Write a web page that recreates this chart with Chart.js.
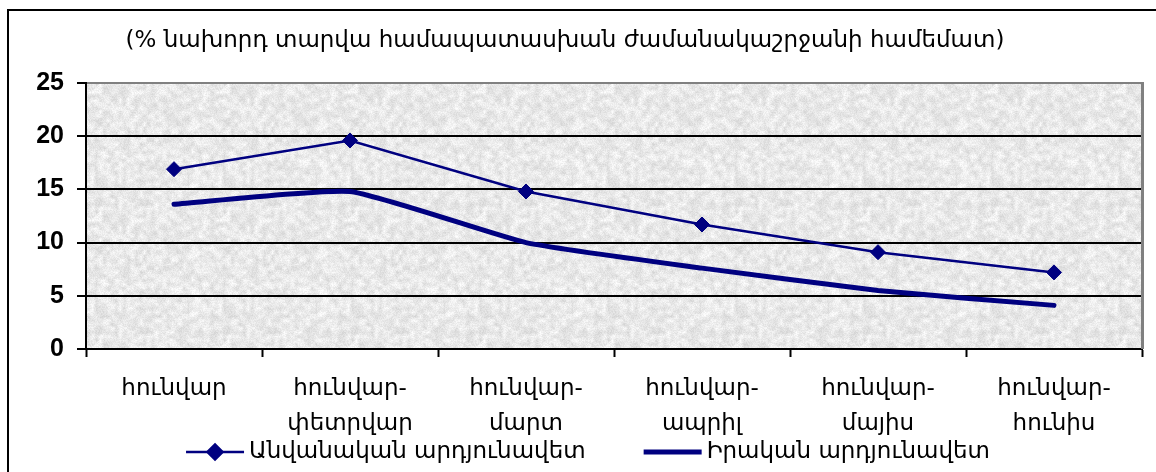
<!DOCTYPE html>
<html>
<head>
<meta charset="utf-8">
<script src="https://cdn.jsdelivr.net/npm/chart.js@4.4.1/dist/chart.umd.min.js"></script>
<style>
  html, body { margin: 0; padding: 0; background: #ffffff; }
  canvas { display: block; }
</style>
</head>
<body>
<canvas id="chart" width="1156" height="472"></canvas>
<script>
// Period labels (two lines each)
const categories = [
  ["հունվար"],
  ["հունվար-", "փետրվար"],
  ["հունվար-", "մարտ"],
  ["հունվար-", "ապրիլ"],
  ["հունվար-", "մայիս"],
  ["հունվար-", "հունիս"]
];

// Series values, % vs. same period of previous year
const nominalValues = [16.9, 19.6, 14.8, 11.7, 9.1, 7.2];
const realValues = [13.6, 14.8, 10.0, 7.6, 5.5, 4.1];

const seriesNames = ["Անվանական արդյունավետ", "Իրական արդյունավետ"];
const subtitle = "(% նախորդ տարվա համապատասխան ժամանակաշրջանի համեմատ)";

const yTicks = [0, 5, 10, 15, 20, 25];

const NAVY = "#000080";
const ARM_FONT = '"DejaVu Sans", "Noto Sans", sans-serif';
const NUM_FONT = '"Liberation Sans", Arial, sans-serif';

// Grainy light-grey fill for the plot area (deterministic hash speckle)
function makeTexture() {
  const size = 128;
  const c = document.createElement("canvas");
  c.width = size; c.height = size;
  const g = c.getContext("2d");
  const img = g.createImageData(size, size);
  const hash = (x, y) => {
    let h = (x * 374761393 + y * 668265263) | 0;
    h = (h ^ (h >>> 13)) * 1274126177 | 0;
    h = h ^ (h >>> 16);
    return ((h >>> 0) % 1000) / 1000;
  };
  const cell = 4;
  const n = size / cell;
  const coarse = (x, y) => hash(((x % n) + n) % n, ((y % n) + n) % n + 977);
  for (let y = 0; y < size; y++) {
    for (let x = 0; x < size; x++) {
      const gx = x / cell, gy = y / cell;
      const x0 = Math.floor(gx), y0 = Math.floor(gy);
      const fx = gx - x0, fy = gy - y0;
      const a = coarse(x0, y0), b = coarse(x0 + 1, y0);
      const cc = coarse(x0, y0 + 1), d = coarse(x0 + 1, y0 + 1);
      const v = (a * (1 - fx) + b * fx) * (1 - fy) + (cc * (1 - fx) + d * fx) * fy;
      const fine = hash(x + 311, y + 127);
      const val = Math.round(233 + (v - 0.5) * 30 + (fine - 0.5) * 18);
      const i = (y * size + x) * 4;
      img.data[i] = img.data[i + 1] = img.data[i + 2] = Math.max(185, Math.min(254, val));
      img.data[i + 3] = 255;
    }
  }
  g.putImageData(img, 0, 0);
  return c;
}

const decorPlugin = {
  id: "decor",
  beforeDraw(chart) {
    const { ctx, chartArea: a } = chart;
    ctx.save();
    // outer frame
    ctx.strokeStyle = "#000";
    ctx.lineWidth = 2;
    ctx.strokeRect(8, 10, 1170, 490);
    // plot background
    ctx.fillStyle = ctx.createPattern(makeTexture(), "repeat");
    ctx.fillRect(a.left, a.top, a.right - a.left, a.bottom - a.top);
    // subtitle
    ctx.fillStyle = "#000";
    ctx.font = "23px " + ARM_FONT;
    ctx.textAlign = "center";
    ctx.textBaseline = "middle";
    ctx.fillText(subtitle, 565, 41);
    ctx.restore();
  },
  afterDraw(chart) {
    const { ctx, chartArea: a } = chart;
    ctx.save();
    // right edge of plot area
    ctx.strokeStyle = "#808080";
    ctx.lineWidth = 3;
    ctx.beginPath();
    ctx.moveTo(a.right + 0.5, a.top - 1);
    ctx.lineTo(a.right + 0.5, a.bottom);
    ctx.stroke();

    // legend
    ctx.font = "23px " + ARM_FONT;
    ctx.textBaseline = "middle";
    ctx.textAlign = "left";
    const y = 452;
    const lineLen = 58, gapText = 5, gapItem = 58;
    const items = chart.data.datasets.map(ds => ({
      ds, w: lineLen + gapText + ctx.measureText(ds.label).width
    }));
    const total = items.reduce((s, it) => s + it.w, 0) + gapItem * (items.length - 1);
    let x = 588 - total / 2;
    items.forEach(it => {
      const ds = it.ds;
      ctx.strokeStyle = ds.borderColor;
      ctx.lineWidth = ds.borderWidth;
      ctx.lineCap = "butt";
      ctx.beginPath();
      ctx.moveTo(x, y);
      ctx.lineTo(x + lineLen, y);
      ctx.stroke();
      if (ds.pointRadius > 0) {
        Chart.helpers.drawPoint(ctx, {
          pointStyle: ds.pointStyle, radius: ds.pointRadius, rotation: 0, borderWidth: 1
        }, x + lineLen / 2, y);
        ctx.fillStyle = ds.pointBackgroundColor;
        ctx.fill();
      }
      ctx.fillStyle = "#000";
      ctx.fillText(ds.label, x + lineLen + gapText, y);
      x += it.w + gapItem;
    });
    ctx.restore();
  }
};

new Chart(document.getElementById("chart"), {
  type: "line",
  data: {
    labels: categories,
    datasets: [
      {
        label: seriesNames[0],
        data: nominalValues,
        borderColor: NAVY,
        backgroundColor: NAVY,
        borderWidth: 2.5,
        pointStyle: "rectRot",
        pointRadius: 7.5,
        pointBackgroundColor: NAVY,
        pointBorderColor: NAVY,
        pointBorderWidth: 1,
        tension: 0,
        fill: false
      },
      {
        label: seriesNames[1],
        data: realValues,
        borderColor: NAVY,
        backgroundColor: NAVY,
        borderWidth: 5,
        pointRadius: 0,
        borderCapStyle: "round",
        borderJoinStyle: "round",
        tension: 0.15,
        fill: false
      }
    ]
  },
  options: {
    responsive: false,
    animation: false,
    events: [],
    layout: { padding: { left: 0, top: 83, right: 14, bottom: 0 } },
    plugins: {
      legend: { display: false },
      title: { display: false },
      tooltip: { enabled: false }
    },
    scales: {
      x: {
        offset: true,
        grid: {
          offset: true,
          drawOnChartArea: false,
          drawTicks: true,
          tickLength: 8,
          tickColor: "#000",
          tickWidth: 2
        },
        border: { color: "#000", width: 2 },
        ticks: {
          color: "#000",
          font: { family: ARM_FONT, size: 23, lineHeight: 1.5 },
          padding: 15,
          maxRotation: 0,
          autoSkip: false
        },
        afterFit(scale) { scale.height = 472 - 349; }
      },
      y: {
        min: 0,
        max: 25,
        afterBuildTicks(scale) { scale.ticks = yTicks.map(v => ({ value: v })); },
        grid: {
          color: ctx => (ctx.tick && ctx.tick.value === 25 ? "#808080" : "#000"),
          lineWidth: 2,
          drawTicks: true,
          tickLength: 9,
          tickColor: "#000",
          tickWidth: 2
        },
        border: { color: "#000", width: 2 },
        ticks: {
          color: "#000",
          font: { family: NUM_FONT, size: 25, weight: "bold" },
          padding: 13
        },
        afterFit(scale) { scale.width = 86; }
      }
    }
  },
  plugins: [decorPlugin]
});
</script>
</body>
</html>
